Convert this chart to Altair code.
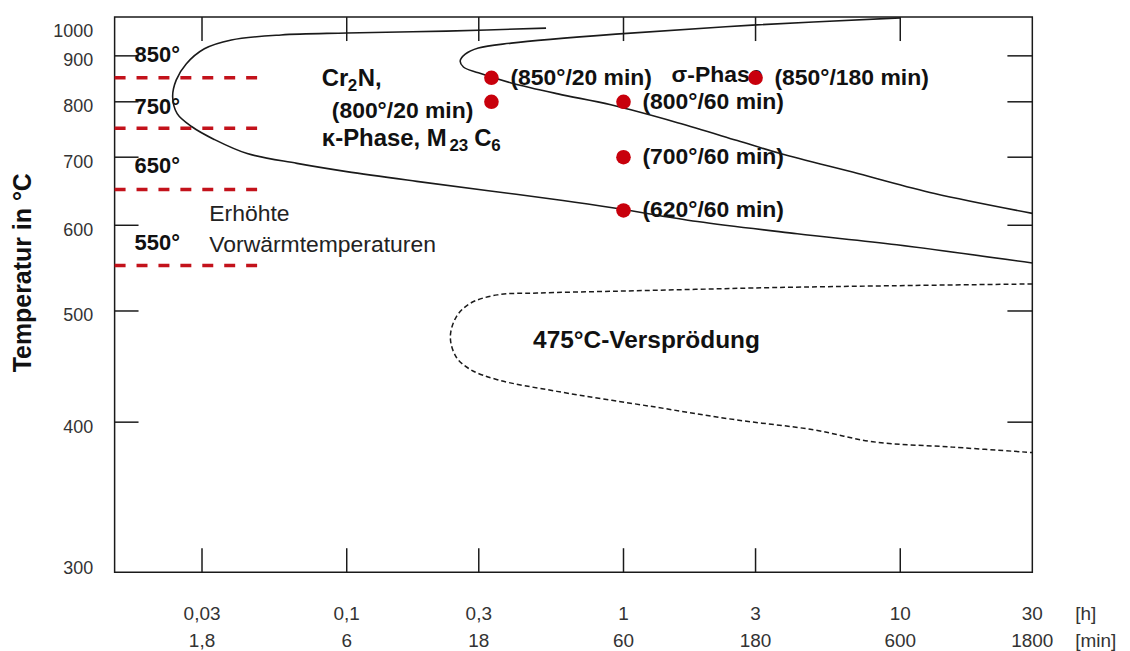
import altair as alt
import pandas as pd

# ---------------- data: time in hours, temperature in °C ----------------
# Cr2N / kappa / M23C6 C-curve (solid)
cr2n_h = [0.525, 0.229, 0.100, 0.0579, 0.0383, 0.0306, 0.0263, 0.0242, 0.0235,
          0.0244, 0.0275, 0.0332, 0.0437, 0.0661, 0.100, 0.179, 0.325, 0.604,
          0.938, 1.85, 4.24, 9.71, 30.0]
cr2n_T = [970, 962, 957, 952, 939, 917, 881, 845, 810,
          777, 753, 730, 706, 690, 677, 662, 648, 634,
          623, 605, 589, 575, 553]

# sigma-phase C-curve (solid)
sigma_h = [10.0, 2.92, 0.938, 0.393, 0.299, 0.268, 0.257, 0.264, 0.299, 0.393,
           0.580, 0.900, 1.567, 2.577, 3.681, 7.03, 13.3, 30.0]
sigma_T = [998, 978, 954, 931, 919, 904, 888, 874, 861, 839,
           816, 794, 760, 728, 706, 674, 644, 616]

# 475 °C embrittlement (dashed)
emb_h = [30.0, 9.39, 3.50, 1.82, 0.938, 0.487, 0.350, 0.2795, 0.2489, 0.2368,
         0.2489, 0.2795, 0.350, 0.575, 1.306, 2.514, 4.88, 7.96, 15.45, 30.0]
emb_T = [529, 527, 525, 523, 521, 519, 517, 508, 494, 474,
         455, 444, 435, 425, 412, 402, 394, 385, 381, 377]

# annealing experiments (red dots)
dot_h = [1 / 3, 1 / 3, 1, 1, 1, 3]
dot_T = [850, 800, 800, 700, 620, 850]
dot_lbl = ["(850°/20 min)", "", "(800°/60 min)", "(700°/60 min)", "(620°/60 min)", "(850°/180 min)"]

# preheating temperatures (red dashed lines)
pre_T = [850, 750, 650, 550]
pre_lbl = ["850°", "750°", "650°", "550°"]
pre_lbl_T = [902, 790, 685, 577]
pre_h_end = 0.0494

# axes
x_tick_h = [0.03, 0.1, 0.3, 1, 3, 10, 30]
x_lbl_h = ["0,03", "0,1", "0,3", "1", "3", "10", "30"]
x_lbl_min = ["1,8", "6", "18", "60", "180", "600", "1800"]
x_inner_ticks = [0.03, 0.1, 0.3, 1, 3, 10]
y_lbl_T = [300, 400, 500, 600, 700, 800, 900, 1000]
y_inner_ticks = [400, 500, 600, 700, 800, 900]

# ---------------- chart ----------------
W, H = 921, 557
FONT = "Liberation Sans"
INK = "#1a1a1a"
RED = "#c3121b"
H_MIN, H_MAX = 0.0145, 30

XS = alt.Scale(type="log", domain=[H_MIN, H_MAX], nice=False)
YS = alt.Scale(type="pow", exponent=-1, domain=[573, 1273], nice=False, zero=False)

y_axis = alt.Axis(
    values=[t + 273 for t in y_lbl_T], labelExpr="datum.value - 273",
    ticks=False, domain=False, grid=False,
    labelFont=FONT, labelFontSize=18, labelColor="#333", labelPadding=22,
    labelFlush=True, labelOffset=5, labelOverlap=False,
    title="Temperatur in °C", titleFont=FONT, titleFontSize=25, titleFontWeight="bold",
    titleColor="#111", titleX=-92, titleY=256, titleAlign="center",
    titleBaseline="middle", titleAngle=270,
)


def xenc(f="h"):
    return alt.X(f"{f}:Q", scale=XS, axis=None)


def yenc(f="K"):
    return alt.Y(f"{f}:Q", scale=YS, axis=y_axis)


def base(df):
    return alt.Chart(df).transform_calculate(K="datum.T + 273")


def label(text, h, T, size=23, weight="bold", color="#111", dx=0, dy=0):
    df = pd.DataFrame({"t": [text], "h": [h], "T": [T]})
    return base(df).mark_text(
        align="left", baseline="middle", font=FONT, fontSize=size,
        fontWeight=weight, color=color, dx=dx, dy=dy,
    ).encode(x=xenc(), y=yenc(), text="t:N")


curves = pd.concat([
    pd.DataFrame({"curve": "cr2n", "i": range(len(cr2n_h)), "h": cr2n_h, "T": cr2n_T}),
    pd.DataFrame({"curve": "sigma", "i": range(len(sigma_h)), "h": sigma_h, "T": sigma_T}),
])
solid = base(curves).mark_line(color=INK, strokeWidth=1.6, interpolate="catmull-rom").encode(
    x=xenc(), y=yenc(), detail="curve:N", order="i:Q")

emb_df = pd.DataFrame({"i": range(len(emb_h)), "h": emb_h, "T": emb_T})
dashed = base(emb_df).mark_line(color=INK, strokeWidth=1.5, strokeDash=[5, 3],
                                interpolate="catmull-rom").encode(
    x=xenc(), y=yenc(), order="i:Q")

pre_df = pd.DataFrame({"T": pre_T, "h0": H_MIN, "h1": pre_h_end})
pre_lines = base(pre_df).mark_rule(color=RED, strokeWidth=3.5, strokeDash=[11, 11]).encode(
    x=alt.X("h0:Q", scale=XS, axis=None), x2="h1:Q", y=yenc())

pre_lbl_df = pd.DataFrame({"t": pre_lbl, "T": pre_lbl_T, "h": 0.01712})
pre_text = base(pre_lbl_df).mark_text(align="left", baseline="middle", font=FONT, fontSize=22,
                                      fontWeight="bold", color="#111").encode(
    x=xenc(), y=yenc(), text="t:N")

dots_df = pd.DataFrame({"h": dot_h, "T": dot_T, "t": dot_lbl})
dot_text = base(dots_df).mark_text(align="left", baseline="middle", font=FONT, fontSize=23,
                                   fontWeight="bold", color="#111", dx=19).encode(
    x=xenc(), y=yenc(), text="t:N")
dots = base(dots_df).mark_circle(size=215, color="#c8000c", opacity=1).encode(
    x=xenc(), y=yenc())

annotations = [
    label("Erhöhte", 0.03187, 615, size=23, weight="normal", color="#222"),
    label("Vorwärmtemperaturen", 0.03187, 575, size=23, weight="normal", color="#222"),
    label("Cr", 0.0813, 847, size=24),
    label("2", 0.0813, 847, size=17, dx=26, dy=7),
    label("N,", 0.0813, 847, size=24, dx=36),
    label("(800°/20 min)", 0.0883, 781),
    label("κ-Phase, M", 0.0813, 730, size=24),
    label("23", 0.0813, 730, size=17, dx=128, dy=7),
    label("C", 0.0813, 730, size=24, dx=153),
    label("6", 0.0813, 730, size=17, dx=170, dy=7),
    label("σ-Phase", 1.492, 857),
    label("475°C-Versprödung", 0.4714, 470, size=24.5),
]

# inner tick marks on all four sides
xt_df = pd.DataFrame({"h": x_inner_ticks})
yt_df = pd.DataFrame({"T": y_inner_ticks})
tick_top = alt.Chart(xt_df).mark_rule(color=INK, strokeWidth=1.5).encode(
    x=xenc(), y=alt.value(0), y2=alt.value(24))
tick_bot = alt.Chart(xt_df).mark_rule(color=INK, strokeWidth=1.5).encode(
    x=xenc(), y=alt.value(H - 24), y2=alt.value(H))
tick_left = base(yt_df).mark_rule(color=INK, strokeWidth=1.5).encode(
    y=yenc(), x=alt.value(0), x2=alt.value(24))
tick_right = base(yt_df).mark_rule(color=INK, strokeWidth=1.5).encode(
    y=yenc(), x=alt.value(W - 25), x2=alt.value(W))

# bottom tick labels: hours and minutes rows
xl_df = pd.DataFrame({"h": x_tick_h, "lh": x_lbl_h, "lm": x_lbl_min})
xl_h = alt.Chart(xl_df).mark_text(font=FONT, fontSize=19, color="#333", baseline="middle").encode(
    x=xenc(), y=alt.value(H + 42), text="lh:N")
xl_m = alt.Chart(xl_df).mark_text(font=FONT, fontSize=19, color="#333", baseline="middle").encode(
    x=xenc(), y=alt.value(H + 69), text="lm:N")
unit_h = alt.Chart(pd.DataFrame({"u": ["[h]"]})).mark_text(
    font=FONT, fontSize=19, color="#333", align="left", baseline="middle").encode(
    x=alt.value(W + 43), y=alt.value(H + 42), text="u:N")
unit_m = alt.Chart(pd.DataFrame({"u": ["[min]"]})).mark_text(
    font=FONT, fontSize=19, color="#333", align="left", baseline="middle").encode(
    x=alt.value(W + 43), y=alt.value(H + 69), text="u:N")

chart = alt.layer(
    tick_top, tick_bot, tick_left, tick_right,
    pre_lines, pre_text,
    *annotations,
    dot_text,
    solid, dashed,
    dots,
    xl_h, xl_m, unit_h, unit_m,
).properties(
    width=W, height=H,
    background="white",
    autosize=alt.AutoSizeParams(type="none"),
    padding={"left": 107, "top": 8, "right": 90, "bottom": 78},
).configure_view(stroke=INK, strokeWidth=1.5)

chart.save("out.html", embed_options={"renderer": "svg", "actions": False})
